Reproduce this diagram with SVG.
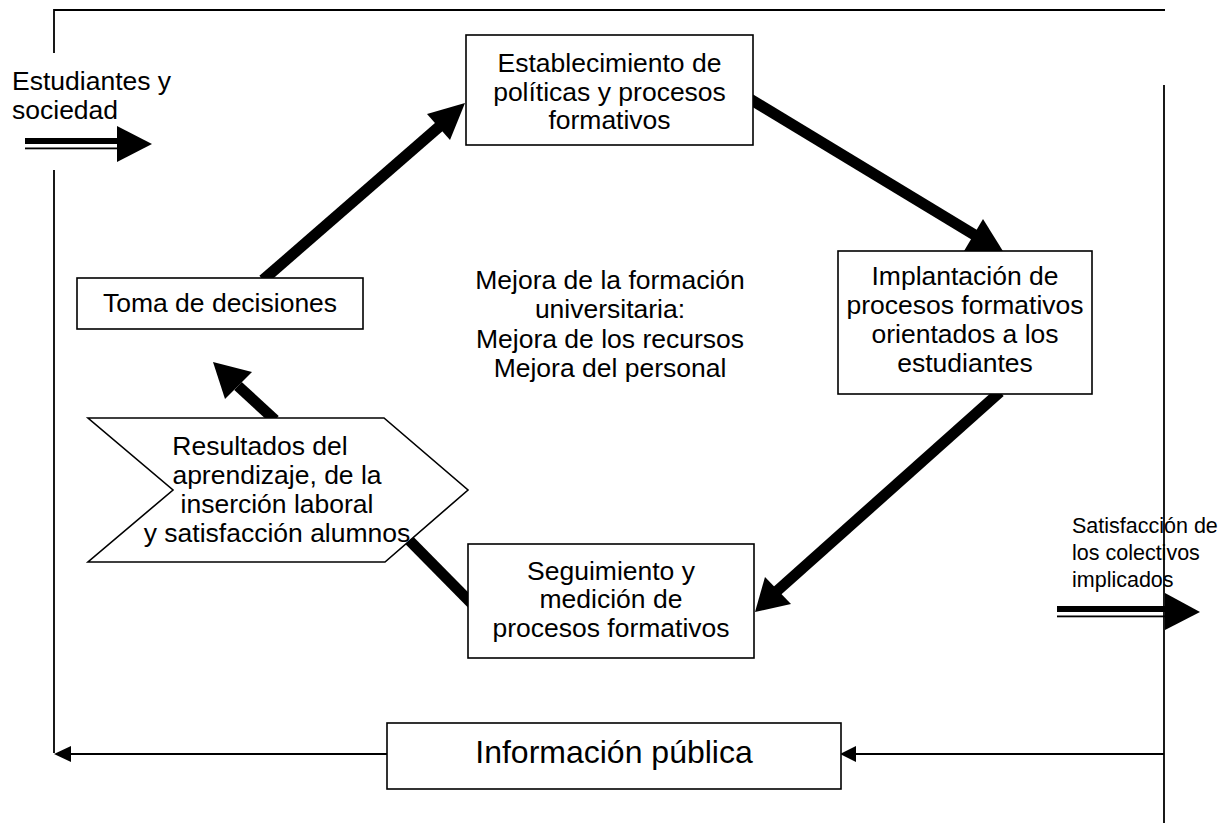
<svg xmlns="http://www.w3.org/2000/svg" width="1220" height="823" viewBox="0 0 1220 823">
<style>
text{font-family:"Liberation Sans",Arial,sans-serif;font-size:26.5px;fill:#000}
.c{text-anchor:middle}
.s{font-size:21.5px}
.box{fill:#fff;stroke:#000;stroke-width:1.6}
.thin{stroke:#000;stroke-width:1.8;fill:none}
.thick{stroke:#000;stroke-width:11;fill:none}
.head{fill:#000;stroke:none}
</style>
<rect width="1220" height="823" fill="#fff"/>
<g id="connectors">
  <polyline class="thin" points="54,53 54,10 1165,10"/>
  <line class="thin" x1="54" y1="170" x2="54" y2="753"/>
  <line class="thin" x1="1164" y1="85" x2="1164" y2="823"/>
  <line class="thin" x1="1164" y1="754" x2="852" y2="754"/>
  <polygon class="head" points="840,754 856,746 856,762"/>
  <line class="thin" x1="387" y1="754" x2="66" y2="754"/>
  <polygon class="head" points="54,754 71,746 71,762"/>
  <rect x="25" y="138" width="93" height="6" fill="#000"/>
  <rect x="25" y="147.5" width="93" height="1.8" fill="#000"/>
  <polygon class="head" points="117,126 152,144 117,162"/>
  <rect x="1057" y="606" width="108" height="6" fill="#000"/>
  <rect x="1057" y="615.5" width="108" height="1.8" fill="#000"/>
  <polygon class="head" points="1165,593 1200,612 1165,630"/>
  <line class="thick" x1="263" y1="280" x2="440" y2="126"/>
  <polygon class="head" points="465,103 427,114 450,140"/>
  <line class="thick" x1="745" y1="96" x2="978" y2="237"/>
  <polygon class="head" points="1006,256 983,219 964,251"/>
  <line class="thick" x1="1000" y1="392" x2="777" y2="591"/>
  <polygon class="head" points="755,612 765,577 791,604"/>
  <line class="thick" x1="478" y1="610" x2="405" y2="536"/>
  <line class="thick" x1="275" y1="420" x2="238" y2="386"/>
  <polygon class="head" points="213,362 252,372 225,399"/>
</g>
<g id="n-entrada">
  <text x="12" y="90">Estudiantes y</text>
  <text x="12" y="119">sociedad</text>
</g>
<g id="n-salida">
  <text class="s" x="1072" y="533">Satisfacción de</text>
  <text class="s" x="1072" y="560">los colectivos</text>
  <text class="s" x="1072" y="587">implicados</text>
</g>
<g id="n-establecimiento">
  <rect class="box" x="466" y="35" width="287" height="110"/>
  <text class="c" x="609.5" y="72">Establecimiento de</text>
  <text class="c" x="609.5" y="101">políticas y procesos</text>
  <text class="c" x="609.5" y="129">formativos</text>
</g>
<g id="n-implantacion">
  <rect class="box" x="838" y="251" width="254" height="143"/>
  <text class="c" x="965" y="285">Implantación de</text>
  <text class="c" x="965" y="314">procesos formativos</text>
  <text class="c" x="965" y="343">orientados a los</text>
  <text class="c" x="965" y="372">estudiantes</text>
</g>
<g id="n-toma">
  <rect class="box" x="77" y="278" width="286" height="51"/>
  <text class="c" x="220" y="312">Toma de decisiones</text>
</g>
<g id="n-mejora">
  <text class="c" x="610" y="289">Mejora de la formación</text>
  <text class="c" x="610" y="318">universitaria:</text>
  <text class="c" x="610" y="348">Mejora de los recursos</text>
  <text class="c" x="610" y="377">Mejora del personal</text>
</g>
<g id="n-resultados">
  <polygon class="box" points="88,418 384,418 468,490 385,562 88,562 173,490"/>
  <text class="c" x="260" y="455">Resultados del</text>
  <text class="c" x="277" y="484">aprendizaje, de la</text>
  <text class="c" x="277" y="513">inserción laboral</text>
  <text class="c" x="277" y="542">y satisfacción alumnos</text>
</g>
<g id="n-seguimiento">
  <rect class="box" x="468" y="544" width="286" height="114"/>
  <text class="c" x="611" y="580">Seguimiento y</text>
  <text class="c" x="611" y="608">medición de</text>
  <text class="c" x="611" y="637">procesos formativos</text>
</g>
<g id="n-informacion">
  <rect class="box" x="387" y="723" width="454" height="66"/>
  <text class="c" x="614" y="763" style="font-size:32px">Información pública</text>
</g>
</svg>
